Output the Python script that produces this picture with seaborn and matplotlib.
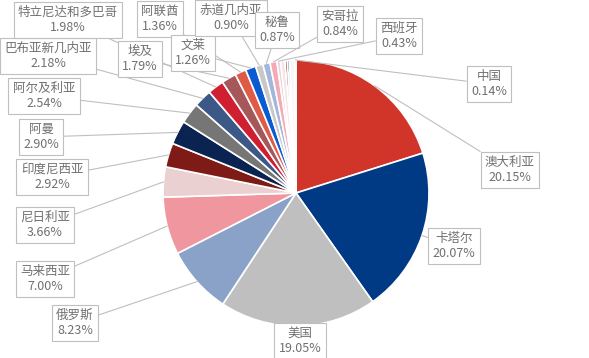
import numpy as np
import seaborn as sns
import matplotlib
matplotlib.use("Agg")
import matplotlib.pyplot as plt

# share of LNG imports by source country (%), clockwise from 12 o'clock
countries = ["澳大利亚", "卡塔尔", "美国", "俄罗斯", "马来西亚", "尼日利亚",
             "印度尼西亚", "阿曼", "阿尔及利亚", "巴布亚新几内亚", "特立尼达和多巴哥",
             "埃及", "阿联酋", "文莱", "赤道几内亚", "秘鲁", "安哥拉", "西班牙",
             "", "", "", "", "中国"]
shares = [20.15, 20.07, 19.05, 8.23, 7.00, 3.66,
          2.92, 2.90, 2.54, 2.18, 1.98,
          1.79, 1.36, 1.26, 0.90, 0.87, 0.84, 0.43,
          0.55, 0.28, 0.25, 0.65, 0.14]
colors = ["#D1352A", "#003A84", "#BFBFBF", "#8BA2C8", "#F0969F", "#EBD0D1",
          "#7F1B16", "#0B2350", "#767676", "#3B5886", "#D01F30",
          "#A6575A", "#E05A48", "#0A5AD2", "#C8C8C8", "#A3B6DA", "#F4AAB5", "#F0D3D6",
          "#F3E6E8", "#8E1A16", "#0B2A6A", "#F7F7F7", "#E4E4E4"]

# label box centres in pixels of the 589x358 image
label_px = {
    "澳大利亚": (510, 170), "卡塔尔": (454, 246), "美国": (300, 341),
    "俄罗斯": (75, 323), "马来西亚": (45, 279), "尼日利亚": (45, 225),
    "印度尼西亚": (52, 177), "阿曼": (41, 137), "阿尔及利亚": (44, 96),
    "巴布亚新几内亚": (48, 56), "特立尼达和多巴哥": (68, 20), "埃及": (140, 59),
    "阿联酋": (160, 19), "文莱": (193, 53), "赤道几内亚": (231, 18),
    "秘鲁": (277, 30), "安哥拉": (340, 24), "西班牙": (399, 36), "中国": (489, 84),
}

W, H = 589, 358
cx, cy, rad = 296, 193, 133

sns.set_theme(style="white")
plt.rcParams["font.family"] = ["Noto Sans CJK SC", "DejaVu Sans"]

fig = plt.figure(figsize=(W / 100, H / 100), dpi=100)
ax = fig.add_axes([0, 0, 1, 1])
wedges, _ = ax.pie(shares, colors=colors, startangle=90, counterclock=False,
                   wedgeprops=dict(edgecolor="white", linewidth=1.2))

ax.set_xlim(-cx / rad, (W - cx) / rad)
ax.set_ylim((cy - H) / rad, cy / rad)
ax.set_aspect("equal")
ax.axis("off")

for w, name, val in zip(wedges, countries, shares):
    if not name:
        continue
    mid = np.deg2rad((w.theta1 + w.theta2) / 2)
    px, py = label_px[name]
    ax.annotate(f"{name}\n{val:.2f}%",
                xy=(np.cos(mid), np.sin(mid)),
                xytext=((px - cx) / rad, (cy - py) / rad),
                ha="center", va="center", fontsize=9, color="#707070",
                linespacing=1.2,
                bbox=dict(boxstyle="square,pad=0.35", fc="white", ec="#BFBFBF", lw=0.8),
                arrowprops=dict(arrowstyle="-", color="#BFBFBF", lw=0.8,
                                shrinkA=0, shrinkB=0))

fig.savefig("out.png", dpi=100)
